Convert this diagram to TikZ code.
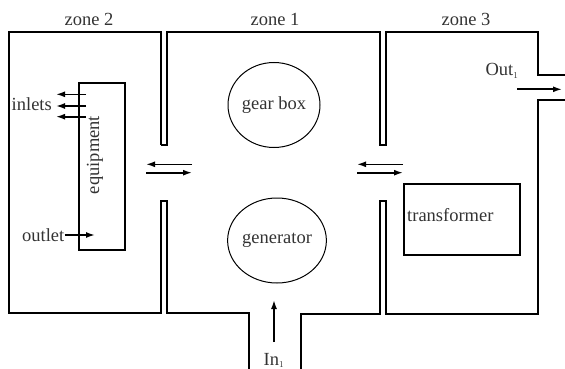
\documentclass[tikz,border=0pt]{standalone}
\usepackage{fontspec}
\setmainfont{Liberation Serif}
\usetikzlibrary{arrows.meta,shapes.geometric}
\begin{document}
\begin{tikzpicture}[x=1pt,y=-1pt,
  wall/.style={line width=1.6pt},
  lbl/.style={font=\fontsize{18.5}{20}\selectfont, text=black!80, inner sep=0pt},
  roundnode/.style={draw, ellipse, line width=1pt, minimum width=92pt, minimum height=85pt, inner sep=0pt, font=\fontsize{18.5}{20}\selectfont, text=black!80},
  boxx/.style={draw, line width=1.6pt, inner sep=0pt},
  arr/.style={line width=1.6pt, -{Latex[length=9pt,width=6pt]}}
]
\useasboundingbox (0,0) rectangle (565,369);
% walls
\draw[wall] (161,145) -- (161,32) -- (9,32) -- (9,313) -- (161,313) -- (161,201) -- (167,201) -- (167,313) -- (249,313) -- (249,372);
\draw[wall] (161,145) -- (167,145) -- (167,32) -- (380,32) -- (380,145) -- (386,145) -- (386,32) -- (538,32) -- (538,75) -- (568,75);
\draw[wall] (568,100) -- (538,100) -- (538,314) -- (386,314) -- (386,201) -- (380,201) -- (380,314) -- (301,314) -- (301,372);
% zone labels
\node[lbl] (z2) at (89,19) {zone 2};
\node[lbl] (z1) at (275,19) {zone 1};
\node[lbl] (z3) at (466,19) {zone 3};
% components
\node[roundnode] (gb) at (274,105) {gear box};
\node[roundnode] (gen) at (277,240.5) {generator};
\node[boxx, minimum width=116pt, minimum height=71pt] (tr) at (462,219.5) {};
\node[lbl, anchor=west] (trl) at (407,215.5) {transformer};
\node[boxx, minimum width=46pt, minimum height=167pt] (eq) at (102,166.5) {};
\node[lbl, rotate=90] (eql) at (95,155) {equipment};
% inlets
\coordinate (i1a) at (86,94.3); \coordinate (i1b) at (56,94.3);
\coordinate (i2a) at (86,106); \coordinate (i2b) at (56,106);
\coordinate (i3a) at (86,116.7); \coordinate (i3b) at (56,116.7);
\draw[arr] (i1a) -- (i1b);
\draw[arr] (i2a) -- (i2b);
\draw[arr] (i3a) -- (i3b);
\node[lbl, anchor=east] (inl) at (52,104) {inlets};
% outlet
\node[lbl, anchor=east] (outl) at (64.5,235) {outlet};
\coordinate (o2) at (95,235);
\draw[arr] (outl.east) -- (o2);
% openings
\coordinate (a1) at (192,164.3); \coordinate (a2) at (146,164.3);
\coordinate (a3) at (146,172.7); \coordinate (a4) at (192,172.7);
\draw[arr] (a1) -- (a2);
\draw[arr] (a3) -- (a4);
\coordinate (b1) at (403,164.3); \coordinate (b2) at (357,164.3);
\coordinate (b3) at (357,172.7); \coordinate (b4) at (403,172.7);
\draw[arr] (b1) -- (b2);
\draw[arr] (b3) -- (b4);
% out
\coordinate (c1) at (517,89.3); \coordinate (c2) at (562,89.3);
\draw[arr] (c1) -- (c2);
\node[lbl] (outlbl) at (502,71) {Out$_{\scriptscriptstyle 1}$};
% in
\coordinate (d1) at (274,342); \coordinate (d2) at (274,300);
\draw[arr] (d1) -- (d2);
\node[lbl, anchor=south] (inlbl) at (274,368) {In$_{\scriptscriptstyle 1}$};
\end{tikzpicture}
\end{document}
